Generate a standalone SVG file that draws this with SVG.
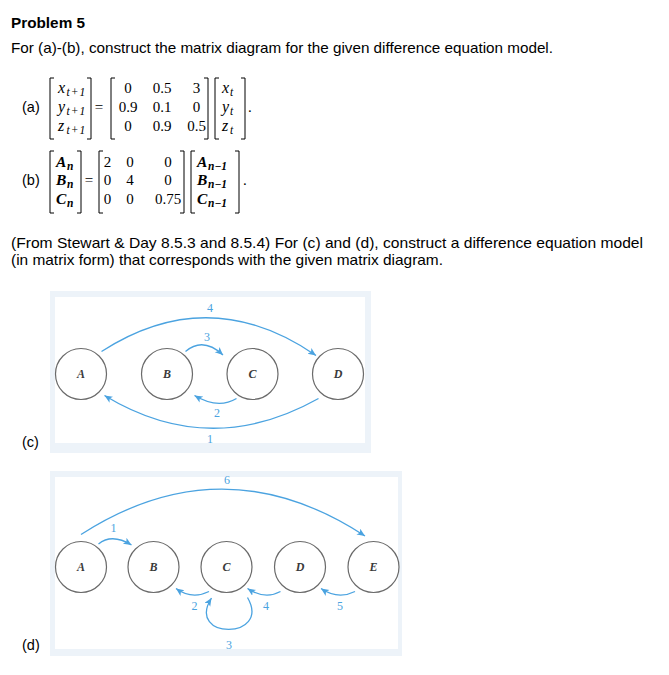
<svg xmlns="http://www.w3.org/2000/svg" width="669" height="675" viewBox="0 0 669 675">
<style>
.t{font-family:"Liberation Sans","DejaVu Sans",sans-serif;font-size:14.5px;fill:#000}
.h{font-family:"Liberation Sans","DejaVu Sans",sans-serif;font-size:14.5px;font-weight:bold;fill:#000}
.m{font-family:"Liberation Serif","DejaVu Serif",serif;font-size:15px;fill:#000}
.mc{font-family:"Liberation Serif","DejaVu Serif",serif;font-size:15px;fill:#000;text-anchor:middle}
.v{font-family:"Liberation Serif","DejaVu Serif",serif;font-size:16px;font-style:italic;fill:#000}
.vb{font-family:"Liberation Serif","DejaVu Serif",serif;font-size:15.5px;font-style:italic;font-weight:bold;fill:#000}
.s{font-size:11.5px}
.br{fill:none;stroke:#000;stroke-width:1}
.panel{fill:#edf3f9}
.inner{fill:#fff}
.node circle{fill:#fff;stroke:#6a6a6a;stroke-width:1.2}
.node text{font-family:"Liberation Serif","DejaVu Serif",serif;font-size:12px;font-style:italic;font-weight:bold;fill:#3a3a3a;text-anchor:middle}
.edge{fill:none;stroke:#4ba3e0;stroke-width:1.3;marker-end:url(#ah)}
.lbl{font-family:"Liberation Serif","DejaVu Serif",serif;font-size:12px;fill:#4ba3e0;text-anchor:middle}
</style>
<defs>
<marker id="ah" markerUnits="userSpaceOnUse" markerWidth="9" markerHeight="8" refX="8" refY="3.5" orient="auto">
<path d="M0,0 L8,3.5 L0,7 L2,3.5 z" fill="#4ba3e0"/>
</marker>
</defs>
<rect width="669" height="675" fill="#fff"/>

<text class="h" x="11" y="28" textLength="74" lengthAdjust="spacingAndGlyphs">Problem 5</text>
<text class="t" x="11" y="52.5" textLength="542" lengthAdjust="spacingAndGlyphs">For (a)-(b), construct the matrix diagram for the given difference equation model.</text>

<g id="eq-a">
<text class="t" x="22" y="111.5">(a)</text>
<path class="br" d="M54,78 H50 V139 H54 M87,78 H91 V139 H87"/>
<text class="v" x="58" y="93">x<tspan class="s" x="66.5" y="96" letter-spacing="1">t+1</tspan></text>
<text class="v" x="58" y="111.5">y<tspan class="s" x="66.5" y="114.5" letter-spacing="1">t+1</tspan></text>
<text class="v" x="58" y="130.5">z<tspan class="s" x="66.5" y="133.5" letter-spacing="1">t+1</tspan></text>
<text class="mc" x="99" y="111.5">=</text>
<path class="br" d="M115,78 H111 V139 H115 M204,78 H208 V139 H204"/>
<text class="mc" x="128" y="93">0</text><text class="mc" x="162" y="93">0.5</text><text class="mc" x="196.5" y="93">3</text>
<text class="mc" x="128" y="111.5">0.9</text><text class="mc" x="162" y="111.5">0.1</text><text class="mc" x="196.5" y="111.5">0</text>
<text class="mc" x="128" y="130.5">0</text><text class="mc" x="162" y="130.5">0.9</text><text class="mc" x="196.5" y="130.5">0.5</text>
<path class="br" d="M219,78 H215 V139 H219 M241,78 H245 V139 H241"/>
<text class="v" x="222" y="93">x<tspan class="s" x="230" y="96">t</tspan></text>
<text class="v" x="222" y="111.5">y<tspan class="s" x="230" y="114.5">t</tspan></text>
<text class="v" x="222" y="130.5">z<tspan class="s" x="230" y="133.5">t</tspan></text>
<text class="m" x="248" y="111.5">.</text>
</g>

<g id="eq-b">
<text class="t" x="22" y="185">(b)</text>
<path class="br" d="M54,151 H50 V213 H54 M77,151 H81 V213 H77"/>
<text class="vb" x="56" y="166.5">A<tspan class="s" x="67" y="169.5">n</tspan></text>
<text class="vb" x="56" y="185">B<tspan class="s" x="67" y="188">n</tspan></text>
<text class="vb" x="56" y="204">C<tspan class="s" x="67" y="207">n</tspan></text>
<text class="mc" x="89" y="185">=</text>
<path class="br" d="M103,151 H99 V213 H103 M180,151 H184 V213 H180"/>
<text class="mc" x="107.5" y="166.5">2</text><text class="mc" x="130" y="166.5">0</text><text class="mc" x="168" y="166.5">0</text>
<text class="mc" x="107.5" y="185">0</text><text class="mc" x="130" y="185">4</text><text class="mc" x="168" y="185">0</text>
<text class="mc" x="107.5" y="204">0</text><text class="mc" x="130" y="204">0</text><text class="mc" x="168" y="204">0.75</text>
<path class="br" d="M195,151 H191 V213 H195 M235,151 H239 V213 H235"/>
<text class="vb" x="197" y="166.5">A<tspan class="s" x="208" y="169.5">n−1</tspan></text>
<text class="vb" x="197" y="185">B<tspan class="s" x="208" y="188">n−1</tspan></text>
<text class="vb" x="197" y="204">C<tspan class="s" x="208" y="207">n−1</tspan></text>
<text class="m" x="243" y="185">.</text>
</g>

<text class="t" x="11" y="248" textLength="632" lengthAdjust="spacingAndGlyphs">(From Stewart &amp; Day 8.5.3 and 8.5.4) For (c) and (d), construct a difference equation model</text>
<text class="t" x="11" y="265" textLength="432" lengthAdjust="spacingAndGlyphs">(in matrix form) that corresponds with the given matrix diagram.</text>

<text class="t" x="22" y="447">(c)</text>
<rect class="panel" x="50" y="291" width="321" height="162"/>
<rect class="inner" x="55" y="297" width="310" height="146"/>
<g id="c-A" class="node"><circle cx="81" cy="374" r="25.5"/><text x="81" y="378">A</text></g>
<g id="c-B" class="node"><circle cx="167" cy="374" r="25.5"/><text x="167" y="378">B</text></g>
<g id="c-C" class="node"><circle cx="252.5" cy="374" r="25.5"/><text x="252.5" y="378">C</text></g>
<g id="c-D" class="node"><circle cx="338" cy="374" r="25.5"/><text x="338" y="378">D</text></g>
<g id="c-edges">
<path class="edge" d="M101.5,351.5 Q209,282 316,355.5"/>
<path class="edge" d="M185.5,351.5 Q203,336.5 223,355"/>
<path class="edge" d="M236.5,398.5 Q218,409.5 194.5,395.5"/>
<path class="edge" d="M318.5,398.5 Q210,459.5 104.5,395.5"/>
<text class="lbl" x="210" y="312">4</text>
<text class="lbl" x="207" y="341">3</text>
<text class="lbl" x="217" y="417">2</text>
<text class="lbl" x="210" y="443">1</text>
</g>

<text class="t" x="22" y="650">(d)</text>
<rect class="panel" x="50" y="471" width="352" height="185"/>
<rect class="inner" x="55" y="477" width="343" height="172"/>
<g id="d-A" class="node"><circle cx="81" cy="567" r="25.5"/><text x="81" y="571">A</text></g>
<g id="d-B" class="node"><circle cx="153.5" cy="567" r="25.5"/><text x="153.5" y="571">B</text></g>
<g id="d-C" class="node"><circle cx="226.5" cy="567" r="25.5"/><text x="226.5" y="571">C</text></g>
<g id="d-D" class="node"><circle cx="300" cy="567" r="25.5"/><text x="300" y="571">D</text></g>
<g id="d-E" class="node"><circle cx="373.5" cy="567" r="25.5"/><text x="373.5" y="571">E</text></g>
<g id="d-edges">
<path class="edge" d="M81,534.5 Q223,443 365,536"/>
<path class="edge" d="M98.5,544 Q112,533 131.5,545"/>
<path class="edge" d="M209,591.5 Q192,600 176,588.5"/>
<path class="edge" d="M280.5,591.5 Q265,600 247.5,588.5"/>
<path class="edge" d="M355,591.5 Q338,600 321,588.5"/>
<path class="edge" d="M247.5,597.5 C272,640 185,640 211.5,598"/>
<text class="lbl" x="227" y="484">6</text>
<text class="lbl" x="113.5" y="532">1</text>
<text class="lbl" x="194.5" y="610">2</text>
<text class="lbl" x="266" y="610">4</text>
<text class="lbl" x="340" y="610">5</text>
<text class="lbl" x="229" y="649">3</text>
</g>
</svg>
